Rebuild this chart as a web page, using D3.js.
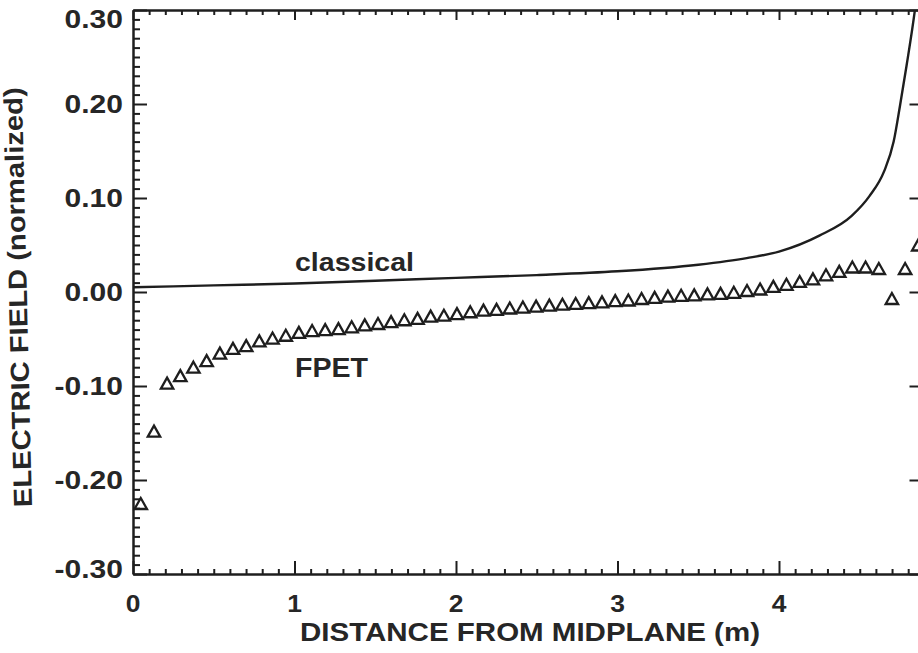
<!DOCTYPE html>
<meta charset="utf-8">
<style>
body { margin: 0; background: #fff; }
svg { display: block; }
.axis path, .axis line { stroke: #1e1e1e; stroke-width: 2px; }
.lbl { font-family: "Liberation Sans", Arial, sans-serif; font-weight: bold; fill: #262626; }
</style>
<body>
<script src="https://d3js.org/d3.v7.min.js"></script>
<script>
var width = 918, height = 653;

// tick labels
var xTicks = [0, 1, 2, 3, 4];
var xTickLabels = ["0", "1", "2", "3", "4"];
var yTicks = [-0.30, -0.20, -0.10, 0.00, 0.10, 0.20, 0.30];
var yTickLabels = ["-0.30", "-0.20", "-0.10", "0.00", "0.10", "0.20", "0.30"];

// classical curve
var classicalX = [0, 0.5, 1.0, 1.5, 2.0, 2.5, 3.0, 3.5, 3.8, 4.0, 4.25, 4.45, 4.56, 4.65, 4.71, 4.75, 4.79, 4.84, 4.87];
var classicalY = [0.005, 0.007, 0.009, 0.012, 0.015, 0.018, 0.022, 0.029, 0.036, 0.043, 0.060, 0.081, 0.102, 0.128, 0.160, 0.199, 0.241, 0.298, 0.34];

// FPET triangles
var fpetX = [0.048, 0.130, 0.211, 0.293, 0.374, 0.456, 0.538, 0.619, 0.701, 0.782,
             0.864, 0.946, 1.027, 1.109, 1.190, 1.272, 1.354, 1.435, 1.517, 1.598,
             1.680, 1.762, 1.843, 1.925, 2.006, 2.088, 2.170, 2.251, 2.333, 2.414,
             2.496, 2.578, 2.659, 2.741, 2.822, 2.904, 2.986, 3.067, 3.149, 3.230,
             3.312, 3.394, 3.475, 3.557, 3.638, 3.720, 3.802, 3.883, 3.965, 4.046,
             4.128, 4.210, 4.291, 4.373, 4.454, 4.536, 4.618, 4.699, 4.781, 4.862];
var fpetY = [-0.225, -0.148, -0.097, -0.089, -0.080, -0.073, -0.065, -0.060, -0.057, -0.052,
             -0.049, -0.046, -0.043, -0.041, -0.040, -0.039, -0.037, -0.035, -0.0335, -0.0315,
             -0.0295, -0.028, -0.0256, -0.0247, -0.023, -0.021, -0.0193, -0.0185, -0.017, -0.016,
             -0.015, -0.014, -0.013, -0.0122, -0.0113, -0.0105, -0.0092, -0.0085, -0.0069, -0.0057,
             -0.0044, -0.0035, -0.003, -0.002, -0.0015, -0.0003, 0.0016, 0.0032, 0.006, 0.0082,
             0.0112, 0.0139, 0.0183, 0.0219, 0.0266, 0.0266, 0.025, -0.0069, 0.025, 0.050];

var plotLeft = 133, plotRight = 919.5, plotTop = 10, plotBottom = 574;

var x = d3.scaleLinear().domain([0, 4.87]).range([plotLeft, plotRight]);
var y = d3.scaleLinear().domain([-0.30, 0.30]).range([plotBottom, plotTop]);

var xMinor = d3.range(0, 4.87, 0.1).filter(function(v) { return Math.abs(v - Math.round(v)) > 1e-6; });
var yMinor = d3.range(-30, 31).filter(function(v) { return v % 10 !== 0; }).map(function(v) { return v / 100; });

var svg = d3.select("body").append("svg")
    .attr("width", width)
    .attr("height", height);

svg.append("defs").append("clipPath").attr("id", "plotclip")
  .append("rect").attr("x", plotLeft).attr("y", plotTop)
    .attr("width", plotRight - plotLeft).attr("height", plotBottom - plotTop);

function stretch(sel, k) {
  sel.each(function() {
    var w = this.getComputedTextLength();
    d3.select(this).attr("textLength", w * k).attr("lengthAdjust", "spacingAndGlyphs");
  });
}

// axes: major + minor ticks, all pointing inwards
svg.append("g").attr("class", "axis")
    .attr("transform", "translate(" + plotLeft + ",0)")
    .call(d3.axisLeft(y).tickValues(yTicks).tickSize(-14).tickSizeOuter(0).tickFormat(""));
svg.append("g").attr("class", "axis")
    .attr("transform", "translate(" + plotLeft + ",0)")
    .call(d3.axisLeft(y).tickValues(yMinor).tickSize(-7).tickSizeOuter(0).tickFormat(""));
svg.append("g").attr("class", "axis")
    .attr("transform", "translate(" + plotRight + ",0)")
    .call(d3.axisRight(y).tickValues(yTicks).tickSize(-10).tickSizeOuter(0).tickFormat(""));

svg.append("g").attr("class", "axis")
    .attr("transform", "translate(0," + plotBottom + ")")
    .call(d3.axisBottom(x).tickValues(xTicks).tickSize(-13).tickSizeOuter(0).tickFormat(""));
svg.append("g").attr("class", "axis")
    .attr("transform", "translate(0," + plotBottom + ")")
    .call(d3.axisBottom(x).tickValues(xMinor).tickSize(-5).tickSizeOuter(0).tickFormat(""));
svg.append("g").attr("class", "axis")
    .attr("transform", "translate(0," + plotTop + ")")
    .call(d3.axisTop(x).tickValues(xTicks).tickSize(-10).tickSizeOuter(0).tickFormat(""));
svg.append("g").attr("class", "axis")
    .attr("transform", "translate(0," + plotTop + ")")
    .call(d3.axisTop(x).tickValues(xMinor).tickSize(-5).tickSizeOuter(0).tickFormat(""));

// tick labels
svg.append("g").selectAll("text")
  .data(yTicks)
  .join("text")
    .attr("class", "lbl")
    .attr("x", 123)
    .attr("y", function(d, i) {
      var shift = i === yTicks.length - 1 ? 18 : (i === 0 ? 4 : 9);
      return y(d) + shift;
    })
    .attr("text-anchor", "end")
    .style("font-size", "25px")
    .text(function(d, i) { return yTickLabels[i]; })
    .call(stretch, 1.2);

svg.append("g").selectAll("text")
  .data(xTicks)
  .join("text")
    .attr("class", "lbl")
    .attr("x", function(d) { return x(d); })
    .attr("y", 612)
    .attr("text-anchor", "middle")
    .style("font-size", "24px")
    .text(function(d, i) { return xTickLabels[i]; })
    .call(stretch, 1.1);

// axis titles
svg.append("text")
    .attr("class", "lbl")
    .attr("x", 300).attr("y", 641)
    .style("font-size", "26px")
    .attr("textLength", 460).attr("lengthAdjust", "spacingAndGlyphs")
    .text("DISTANCE FROM MIDPLANE (m)");

svg.append("text")
    .attr("class", "lbl")
    .attr("transform", "translate(32,507) rotate(-91.4)")
    .style("font-size", "26px")
    .attr("textLength", 420).attr("lengthAdjust", "spacingAndGlyphs")
    .text("ELECTRIC FIELD (normalized)");

// classical curve
var classical = classicalX.map(function(d, i) { return [d, classicalY[i]]; });
var line = d3.line()
    .x(function(d) { return x(d[0]); })
    .y(function(d) { return y(d[1]); })
    .curve(d3.curveMonotoneX);

svg.append("path")
    .datum(classical)
    .attr("clip-path", "url(#plotclip)")
    .attr("d", line)
    .attr("fill", "none")
    .attr("stroke", "#1e1e1e")
    .attr("stroke-width", 2.4);

// FPET triangles
svg.append("g").selectAll("path")
  .data(fpetX)
  .join("path")
    .attr("transform", function(d, i) { return "translate(" + x(d) + "," + y(fpetY[i]) + ")"; })
    .attr("d", "M0,-5.5L6.2,5.5L-6.2,5.5Z")
    .attr("fill", "none")
    .attr("stroke", "#1e1e1e")
    .attr("stroke-width", 2.3)
    .attr("stroke-linejoin", "miter");

// curve labels
svg.append("text")
    .attr("class", "lbl")
    .attr("x", 295).attr("y", 271)
    .style("font-size", "26px")
    .attr("textLength", 119).attr("lengthAdjust", "spacingAndGlyphs")
    .text("classical");

svg.append("text")
    .attr("class", "lbl")
    .attr("x", 295).attr("y", 377)
    .style("font-size", "27px")
    .attr("textLength", 73).attr("lengthAdjust", "spacingAndGlyphs")
    .text("FPET");
</script>
</body>
</html>
